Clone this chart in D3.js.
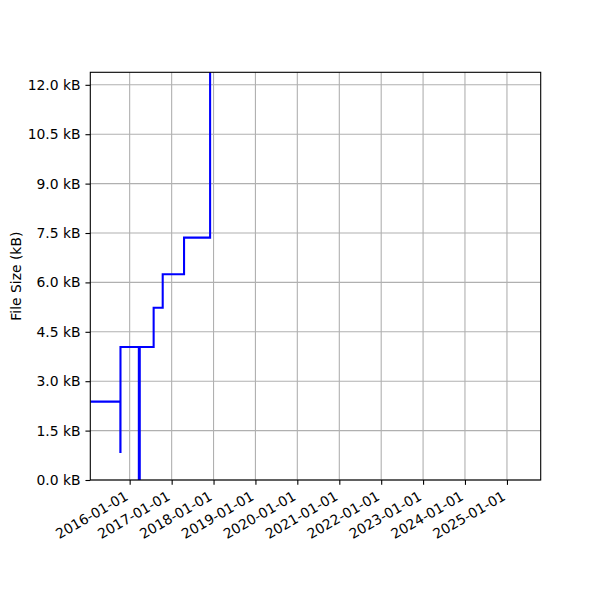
<!DOCTYPE html>
<html>
<head>
<meta charset="utf-8">
<script src="https://cdn.jsdelivr.net/npm/d3@7.9.0/dist/d3.min.js"></script>
<style>
  body { margin: 0; background: #fff; }
  svg { font-family: "DejaVu Sans", sans-serif; }
</style>
</head>
<body>
<svg id="chart" width="600" height="600"></svg>
<script>
// commit dates and file sizes (bytes)
const dates = ['2015-01-23', '2015-10-12', '2015-10-13', '2016-03-21', '2016-03-29',
  '2016-07-28', '2016-10-15', '2017-04-19', '2017-12-02'];
const sizes = [2380, 850, 4040, 0, 4040, 5230, 6250, 7360, 16000];
const yTicks = [0, 1500, 3000, 4500, 6000, 7500, 9000, 10500, 12000];
const xTickYears = [2016, 2017, 2018, 2019, 2020, 2021, 2022, 2023, 2024, 2025];

const parse = d3.utcParse('%Y-%m-%d');
const data = dates.map((d, i) => ({ t: parse(d), v: sizes[i] }));

const margin = { top: 72.3, right: 59.3, bottom: 120, left: 90.3 };
const W = 600, H = 600;
const svg = d3.select('#chart');

let x = d3.scaleUtc()
  .domain([parse('2015-01-23'), parse('2025-10-22')])
  .range([margin.left, W - margin.right]);
let y = d3.scaleLinear()
  .domain([0, 12380])
  .range([H - margin.bottom, margin.top]);

svg.append('defs').append('clipPath').attr('id', 'clip')
  .append('rect')
  .attr('x', margin.left).attr('y', margin.top)
  .attr('width', W - margin.right - margin.left)
  .attr('height', H - margin.bottom - margin.top);

// grid
let xTicks = xTickYears.map(yr => new Date(Date.UTC(yr, 0, 1)));
svg.append('g').selectAll('line').data(xTicks).join('line')
  .attr('x1', d => x(d)).attr('x2', d => x(d))
  .attr('y1', margin.top).attr('y2', H - margin.bottom)
  .attr('stroke', '#b0b0b0').attr('stroke-width', 1.1);
svg.append('g').selectAll('line').data(yTicks).join('line')
  .attr('x1', margin.left).attr('x2', W - margin.right)
  .attr('y1', d => y(d)).attr('y2', d => y(d))
  .attr('stroke', '#b0b0b0').attr('stroke-width', 1.1);

// step line
let line = d3.line()
  .x(d => x(d.t))
  .y(d => y(d.v))
  .curve(d3.curveStepAfter);
svg.append('path')
  .datum(data)
  .attr('clip-path', 'url(#clip)')
  .attr('d', line)
  .attr('fill', 'none')
  .attr('stroke', '#0000ff')
  .attr('stroke-width', 2.08);

// axes
let yAxis = d3.axisLeft(y).tickValues(yTicks)
  .tickSize(4.86).tickPadding(4.86)
  .tickFormat(d => (d / 1000).toFixed(1) + ' kB');
let gy = svg.append('g').attr('transform', `translate(${margin.left},0)`).call(yAxis);

let xAxis = d3.axisBottom(x).tickValues(xTicks)
  .tickSize(4.86).tickPadding(4.86)
  .tickFormat(d3.utcFormat('%Y-%m-%d'));
let gx = svg.append('g').attr('transform', `translate(0,${H - margin.bottom})`).call(xAxis);

[gx, gy].forEach(g => {
  g.select('.domain').remove();
  g.selectAll('.tick line').attr('stroke', '#000').attr('stroke-width', 1.1);
  g.selectAll('.tick text').attr('fill', '#000').attr('font-size', 13.9)
    .attr('font-family', '"DejaVu Sans", sans-serif');
});

gx.selectAll('.tick text')
  .attr('text-anchor', 'end')
  .attr('dy', 0)
  .attr('y', 0)
  .attr('transform', 'translate(-1,19) rotate(-30)');

// frame
svg.append('rect')
  .attr('x', margin.left).attr('y', margin.top)
  .attr('width', W - margin.right - margin.left)
  .attr('height', H - margin.bottom - margin.top)
  .attr('fill', 'none').attr('stroke', '#000').attr('stroke-width', 1.1);

svg.append('text')
  .attr('transform', `translate(21,${(margin.top + H - margin.bottom) / 2}) rotate(-90)`)
  .attr('text-anchor', 'middle')
  .attr('font-size', 13.9)
  .text('File Size (kB)');
</script>
</body>
</html>
